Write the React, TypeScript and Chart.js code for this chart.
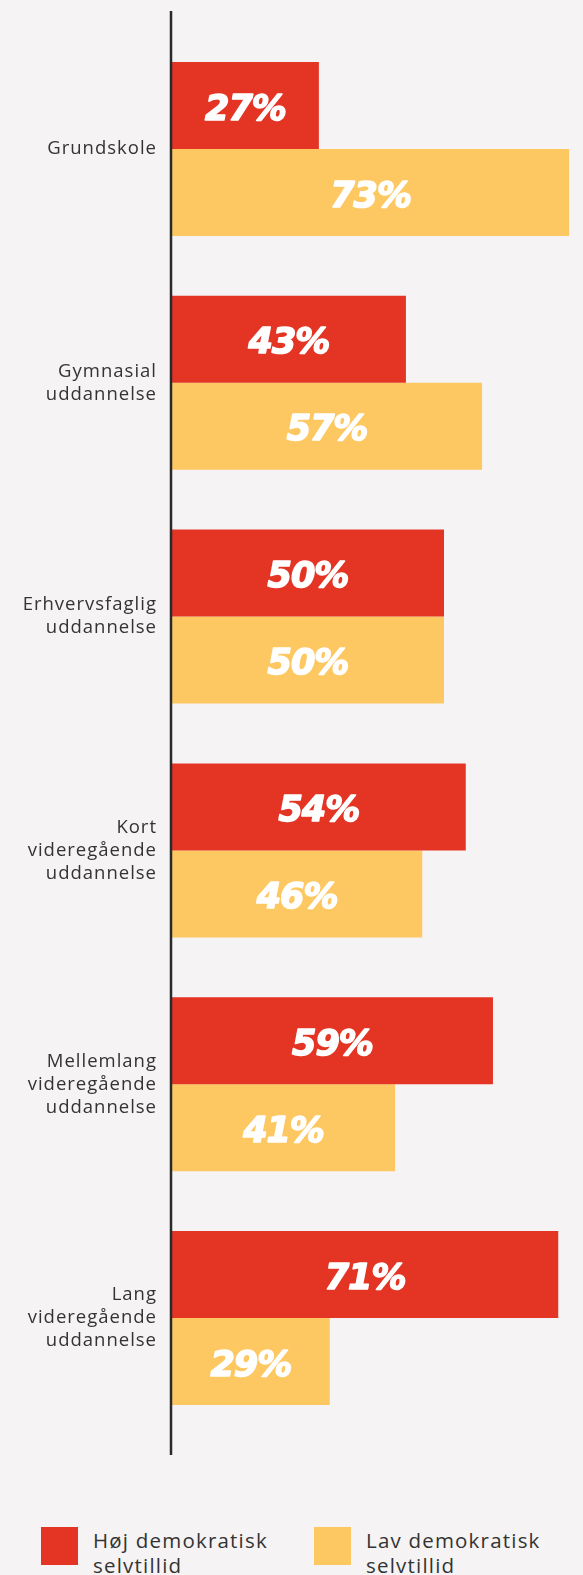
import React, { useEffect, useRef } from "react";
import { Chart, registerables } from "chart.js";

Chart.register(...registerables);

const categories: string[][] = [
  ["Grundskole"],
  ["Gymnasial", "uddannelse"],
  ["Erhvervsfaglig", "uddannelse"],
  ["Kort", "videregående", "uddannelse"],
  ["Mellemlang", "videregående", "uddannelse"],
  ["Lang", "videregående", "uddannelse"],
];
const highSeries = [27, 43, 50, 54, 59, 71];
const lowSeries = [73, 57, 50, 46, 41, 29];
const seriesNames = ["Høj demokratisk selvtillid", "Lav demokratisk selvtillid"];
const RED = "#E43424";
const YELLOW = "#FDC862";
const BG = "#F5F3F4";

const spacing = {
  id: "spacing",
  beforeDraw(chart: any) {
    chart.ctx.letterSpacing = "1px";
  },
  afterDraw(chart: any) {
    chart.ctx.letterSpacing = "0px";
  },
};

const valueLabels = {
  id: "valueLabels",
  afterDatasetsDraw(chart: any) {
    const ctx = chart.ctx;
    ctx.save();
    ctx.letterSpacing = "-1px";
    ctx.fillStyle = "#ffffff";
    ctx.strokeStyle = "#ffffff";
    ctx.lineWidth = 1.6;
    ctx.lineJoin = "round";
    ctx.font = "oblique bold 35px 'DejaVu Sans', sans-serif";
    ctx.textAlign = "center";
    ctx.textBaseline = "middle";
    chart.data.datasets.forEach((ds: any, di: number) => {
      const meta = chart.getDatasetMeta(di);
      meta.data.forEach((el: any, i: number) => {
        const cx = (el.x + el.base) / 2;
        const t = ds.data[i] + "%";
        ctx.fillText(t, cx, el.y + 5);
        ctx.strokeText(t, cx, el.y + 5);
      });
    });
    ctx.restore();
  },
};

const axisLine = {
  id: "axisLine",
  afterDraw(chart: any) {
    const ctx = chart.ctx;
    const x = chart.scales.x.getPixelForValue(0) - 1;
    ctx.save();
    ctx.strokeStyle = "#2a2a2a";
    ctx.lineWidth = 2.5;
    ctx.beginPath();
    ctx.moveTo(x, 11);
    ctx.lineTo(x, 1455);
    ctx.stroke();
    ctx.restore();
  },
};

export default function App() {
  const ref = useRef<HTMLCanvasElement>(null);
  useEffect(() => {
    document.body.style.margin = "0";
    document.body.style.background = BG;
    const chart = new Chart(ref.current as HTMLCanvasElement, {
      type: "bar",
      data: {
        labels: categories,
        datasets: [
          { label: seriesNames[0], data: highSeries, backgroundColor: RED },
          { label: seriesNames[1], data: lowSeries, backgroundColor: YELLOW },
        ],
      },
      options: {
        indexAxis: "y",
        animation: false,
        responsive: false,
        maintainAspectRatio: false,
        layout: { padding: { top: 32, bottom: 1480 - 1435, right: 3, left: 0 } },
        datasets: {
          bar: { categoryPercentage: 0.744, barPercentage: 1.0, borderWidth: 0 },
        },
        plugins: { legend: { display: false }, tooltip: { enabled: false } },
        scales: {
          x: { display: false, min: 0, max: 75 },
          y: {
            grid: { display: false },
            border: { display: false },
            ticks: {
              color: "#333333",
              padding: 7,
              font: { family: "'Open Sans', sans-serif", size: 18.5, lineHeight: "23px" },
            },
            afterFit(scale: any) {
              scale.width = 172;
              scale.paddingTop = 0;
              scale.paddingBottom = 0;
            },
          },
        },
      },
      plugins: [spacing, valueLabels, axisLine],
    } as any);
    return () => chart.destroy();
  }, []);

  const legendItem = (color: string, text: string, left: number) => (
    <div style={{ position: "absolute", left, top: 1527, display: "flex" }}>
      <div style={{ width: 37, height: 38, background: color, flexShrink: 0 }} />
      <div
        style={{
          marginLeft: 15,
          marginTop: 1,
          fontFamily: "'Open Sans', sans-serif",
          fontSize: 20.5,
          letterSpacing: "1.2px",
          lineHeight: "25px",
          color: "#333333",
          width: 205,
        }}
      >
        {text}
      </div>
    </div>
  );

  return (
    <div style={{ position: "relative", width: 583, height: 1575, background: BG, overflow: "hidden" }}>
      <canvas ref={ref} width={583} height={1480} style={{ display: "block" }} />
      {legendItem(RED, seriesNames[0], 41)}
      {legendItem(YELLOW, seriesNames[1], 314)}
    </div>
  );
}
